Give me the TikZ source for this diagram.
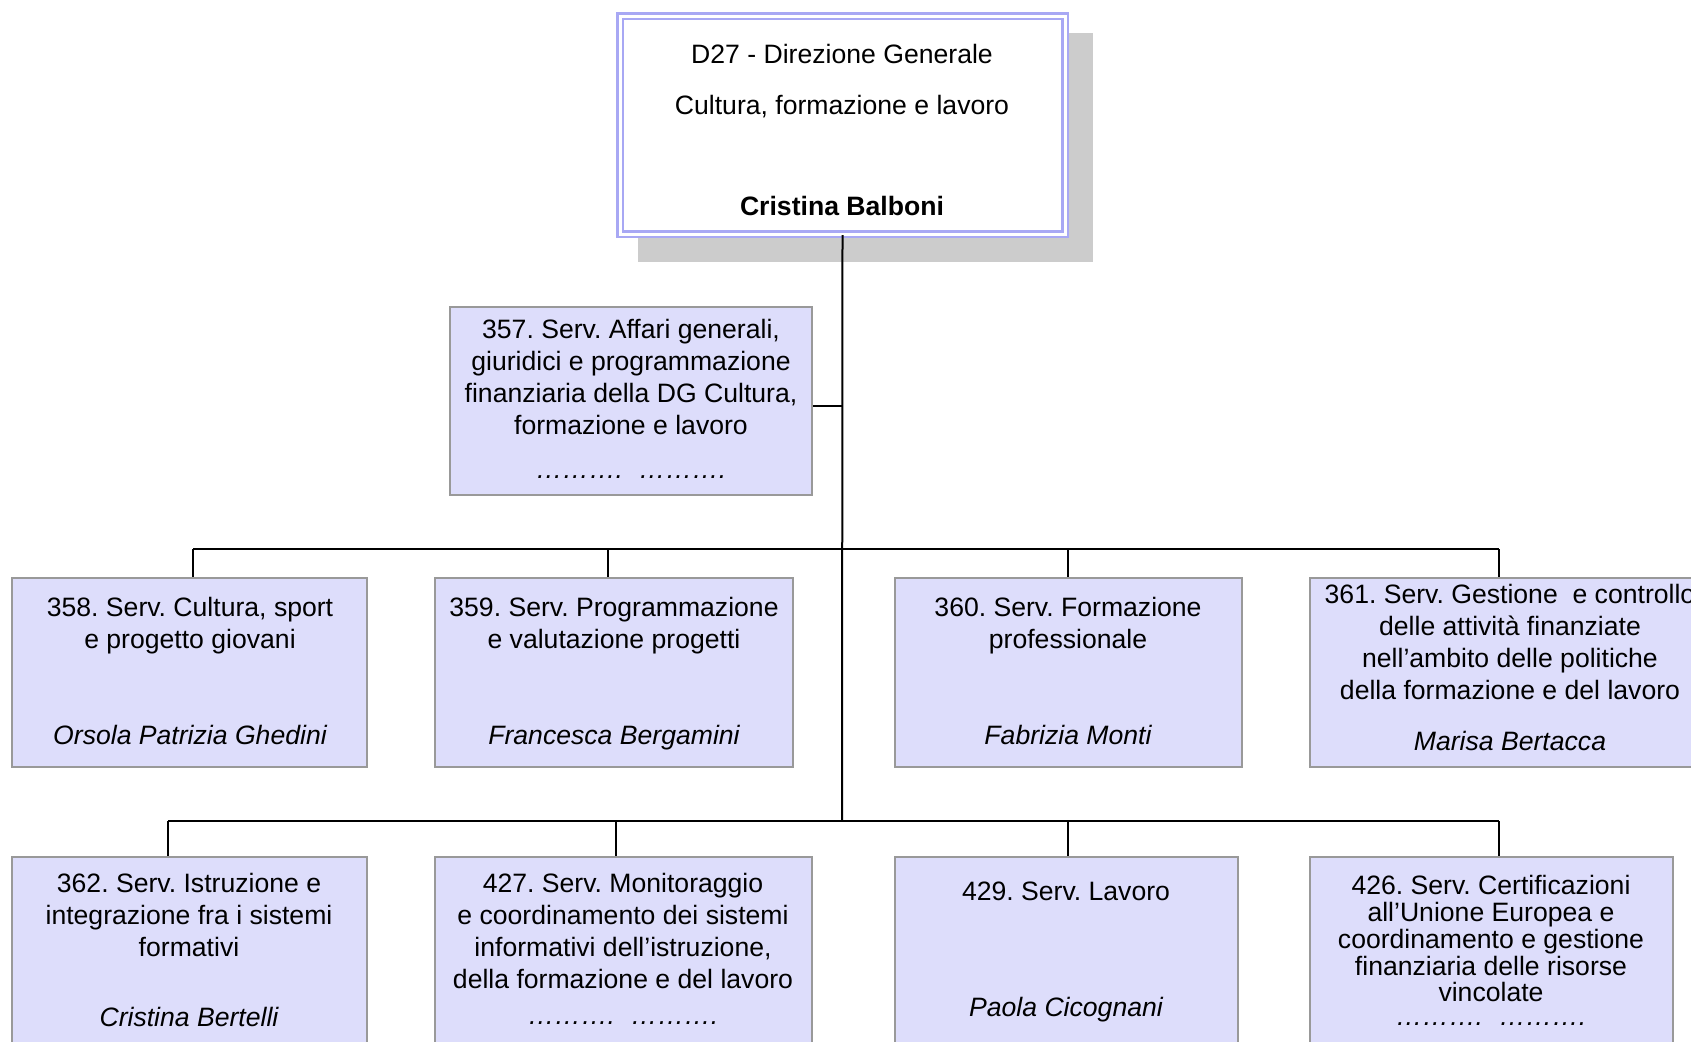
\documentclass[tikz,border=0pt]{standalone}
\usepackage{fontspec}
\setmainfont{Liberation Sans}
\usetikzlibrary{fit}
\definecolor{boxfill}{HTML}{DDDDFB}
\definecolor{boxline}{HTML}{999999}
\definecolor{dgline}{HTML}{A8A8F4}
\definecolor{shadowgray}{HTML}{CCCCCC}
\tikzset{
  svcbox/.style={draw=boxline, fill=boxfill, line width=0.9pt, inner sep=0pt},
  dgbox/.style={draw=dgline, fill=white, double=white, double distance=1.5pt, line width=1.2pt, inner sep=0pt},
  txt/.style={font=\fontsize{13.3}{16}\selectfont, align=center, inner sep=0pt, anchor=north},
  tighttxt/.style={txt, font=\fontsize{13.3}{13.4}\selectfont},
  boss/.style={txt, font=\fontsize{13.3}{16}\selectfont\itshape},
  link/.style={line width=1pt}
}
\newcommand{\puntini}{\dots\dots\dots.\hspace{0.6em}\dots\dots\dots.}
\frenchspacing
\begin{document}
\begin{tikzpicture}[x=0.5pt, y=-0.5pt]
\useasboundingbox (0,0) rectangle (1691,1041);
\clip (0,0) rectangle (1691,1041);

% direzione generale
\fill [shadowgray] (638,33) rectangle (1093,262);
\node [dgbox, fit={(620,16) (1065,234)}] (dg) {};
\node [txt] (dgnome) at (842,44) {D27 - Direzione Generale};
\node [txt] (dgsett) at (842,95) {Cultura, formazione e lavoro};
\node [txt, font=\fontsize{13.3}{16}\selectfont\bfseries] (dgcapo) at (842,196) {Cristina Balboni};

% servizio di staff
\node [svcbox, fit={(450,307) (812,495)}] (s357) {};
\node [txt] at (631,319) {357. Serv. Affari generali,\\giuridici e programmazione\\finanziaria della DG Cultura,\\formazione e lavoro};
\node [boss] at (631,475) {\puntini};

% prima fila
\node [svcbox, fit={(12,578) (367,767)}] (s358) {};
\node [svcbox, fit={(435,578) (793,767)}] (s359) {};
\node [svcbox, fit={(895,578) (1242,767)}] (s360) {};
\node [svcbox, fit={(1310,578) (1712,767)}] (s361) {};
\node [txt] at (190,597) {358. Serv. Cultura, sport\\e progetto giovani};
\node [boss] at (190,725) {Orsola Patrizia Ghedini};
\node [txt] at (614,597) {359. Serv. Programmazione\\e valutazione progetti};
\node [boss] at (614,725) {Francesca Bergamini};
\node [txt] at (1068,597) {360. Serv. Formazione\\professionale};
\node [boss] at (1068,725) {Fabrizia Monti};
\node [txt] at (1510,584) {361. Serv. Gestione\ \ e controllo\\delle attività finanziate\\nell’ambito delle politiche\\della formazione e del lavoro};
\node [boss] at (1510,731) {Marisa Bertacca};

% seconda fila
\node [svcbox, fit={(12,857) (367,1060)}] (s362) {};
\node [svcbox, fit={(435,857) (812,1060)}] (s427) {};
\node [svcbox, fit={(895,857) (1238,1060)}] (s429) {};
\node [svcbox, fit={(1310,857) (1673,1060)}] (s426) {};
\node [txt] at (189,873) {362. Serv. Istruzione e\\integrazione fra i sistemi\\formativi};
\node [boss] at (189,1007) {Cristina Bertelli};
\node [txt] at (623,873) {427. Serv. Monitoraggio\\e coordinamento dei sistemi\\informativi dell’istruzione,\\della formazione e del lavoro};
\node [boss] at (623,1021) {\puntini};
\node [txt] at (1066,882) {429. Serv. Lavoro};
\node [boss] at (1066,997) {Paola Cicognani};
\node [tighttxt] at (1491,875) {426. Serv. Certificazioni\\all’Unione Europea e\\coordinamento e gestione\\finanziaria delle risorse\\vincolate};
\node [boss] at (1491,1022) {\puntini};

% collegamenti
\coordinate (tronco) at (842,821);
\coordinate (j358) at (193,549);
\coordinate (j359) at (608,549);
\coordinate (j360) at (1068,549);
\coordinate (j361) at (1499,549);
\coordinate (j362) at (168,821);
\coordinate (j427) at (616,821);
\coordinate (j429) at (1068,821);
\coordinate (j426) at (1499,821);
\draw [link] (dg.south) -- (tronco);
\draw [link] ([yshift=-2.5pt]s357.east) -- ([yshift=-2.5pt]s357.east -| tronco);
\draw [link] (j358) -- (j361);
\draw [link] (j362) -- (j426);
\foreach \s in {358,359,360,361,362,427,429,426}
  \draw [link] (j\s) -- (j\s |- s\s.north);
\end{tikzpicture}
\end{document}
